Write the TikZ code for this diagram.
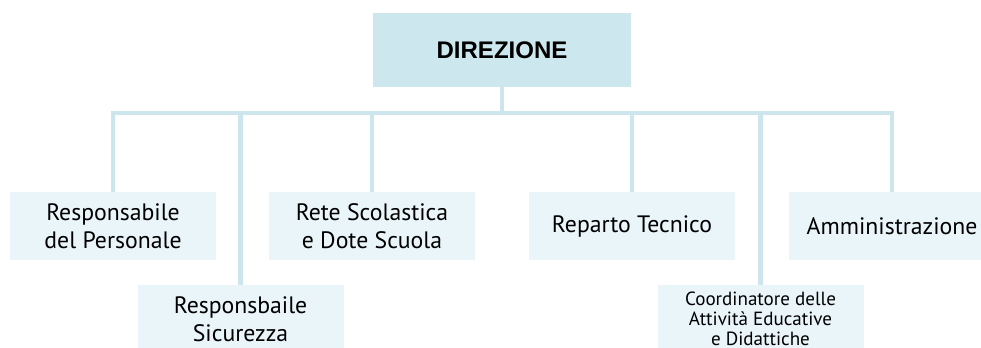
\documentclass[tikz,border=0pt]{standalone}
\usepackage{fontspec}
\setmainfont{PT Sans}
\newfontfamily\headfont{Liberation Sans}
\definecolor{headfill}{HTML}{CCE7EE}
\definecolor{boxfill}{HTML}{E9F5F9}
\definecolor{linecol}{HTML}{CDE6EE}
\begin{document}
\begin{tikzpicture}[x=0.75pt,y=-0.75pt,
  unitbox/.style={fill=boxfill,draw=none,minimum width=206*0.75pt,minimum height=68*0.75pt,
    inner sep=0pt,align=center,font=\fontsize{17.8}{21}\selectfont},
  smallbox/.style={unitbox,font=\fontsize{14.3}{15}\selectfont},
  headbox/.style={fill=headfill,draw=none,minimum width=258*0.75pt,minimum height=74*0.75pt,
    inner sep=0pt,font=\headfont\bfseries\fontsize{18}{20}\selectfont},
  conn/.style={draw=linecol,line width=3.2pt}]
\useasboundingbox (0,0) rectangle (981,347);
\clip (0,0) rectangle (981,347);
\fill[white] (0,0) rectangle (981,347);
\node[headbox] (dir) at (502,50) {DIREZIONE};
\coordinate (bar) at (502,113);
\node[unitbox] (b1) at (113,226) {Responsabile\\del Personale};
\node[unitbox] (b2) at (240.5,319) {Responsbaile\\Sicurezza};
\node[unitbox] (b3) at (372,226) {Rete Scolastica\\e Dote Scuola};
\node[unitbox] (b4) at (632,226) {Reparto Tecnico};
\node[smallbox] (b5) at (760.5,319) {Coordinatore delle\\Attività Educative\\e Didattiche};
\node[unitbox] (b6) at (892,226) {Amministrazione};
\draw[conn] (dir.south) -- (dir.south |- bar);
\draw[conn,line join=miter] (b1.north) -- (b1.north |- bar) -- (b6.north |- bar) -- (b6.north);
\foreach \b in {b2,b3,b4,b5} \draw[conn] (\b.north) -- (\b.north |- bar);
\end{tikzpicture}
\end{document}
